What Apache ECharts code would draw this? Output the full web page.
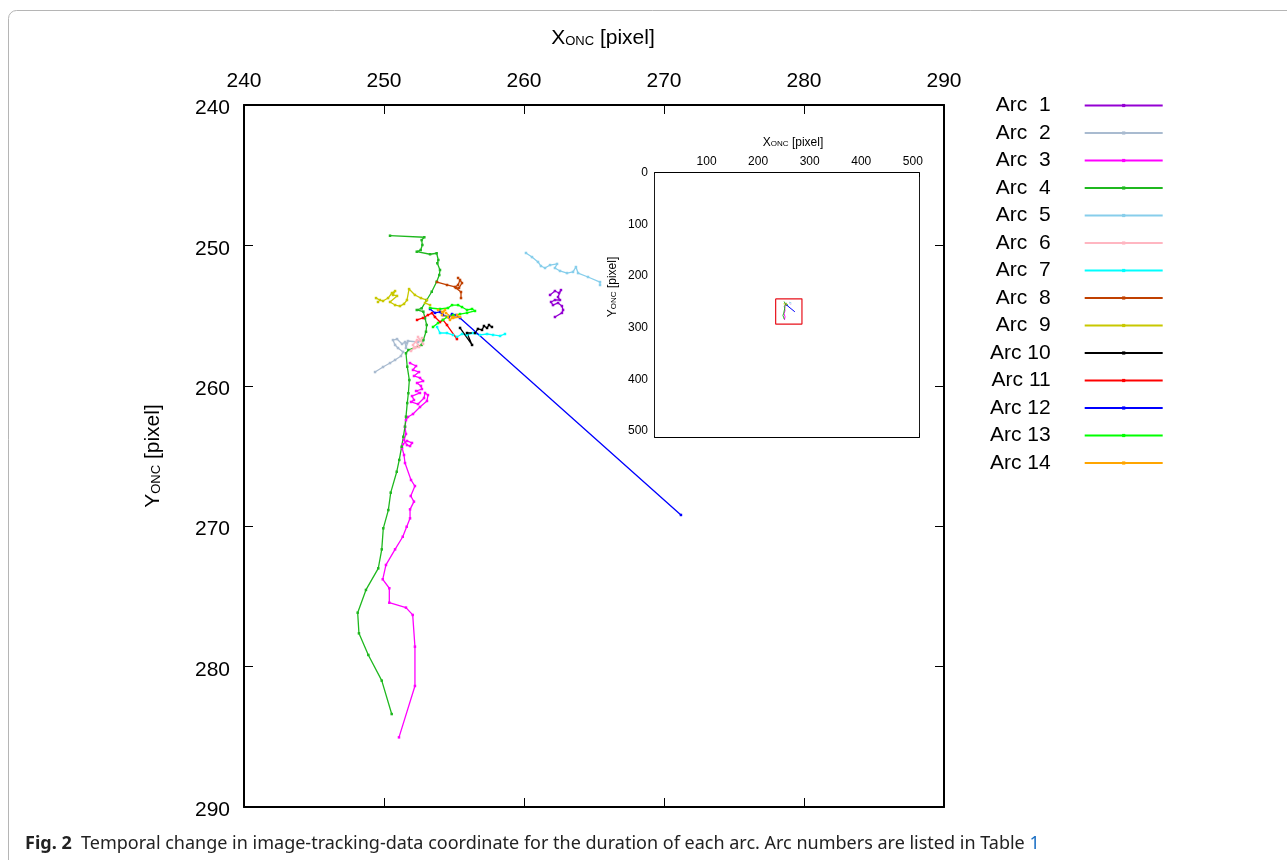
<!DOCTYPE html>
<html><head><meta charset="utf-8">
<script src="https://cdn.jsdelivr.net/npm/echarts@6/dist/echarts.min.js"></script>
<style>html,body{margin:0;padding:0;background:#fff}#c{width:1287px;height:860px}</style>
</head><body><div id="c"></div>
<script>
// ---- data (image-tracking coordinates, x = X_ONC, y = Y_ONC) ----
const arcNames = ['Arc  1','Arc  2','Arc  3','Arc  4','Arc  5','Arc  6','Arc  7','Arc  8','Arc  9','Arc 10','Arc 11','Arc 12','Arc 13','Arc 14'];
const arcColors = ['#9400d3','#a9bbd0','#ff00ff','#1fb81f','#87ceeb','#ffb6c1','#00ffff','#c04000','#c8c800','#000000','#ff0000','#0000ff','#00ff00','#ffa500'];
const arc1 = [[261.86,253.53],[262.21,253.25],[262.5,253.39],[262.64,253.18],[262.43,253.68],[262.57,253.89],[262.21,253.89],[261.93,254.03],[262.07,254.25],[262.43,254.10],[262.71,254.32],[262.79,254.60],[262.71,254.81],[262.21,255.10]];
const arc2 = [[249.36,259.02],[249.93,258.66],[250.43,258.38],[250.79,258.16],[251.21,257.88],[251.36,257.59],[251.0,257.31],[250.79,257.09],[250.64,256.74],[250.93,256.67],[251.29,257.02],[251.5,256.88],[251.64,256.95],[251.57,257.31],[251.71,256.81],[252.43,256.88],[252.79,256.74]];
const arc3 = [[251.86,258.38],[252.29,258.59],[252.07,258.87],[252.5,259.02],[252.14,259.30],[252.57,259.44],[252.79,259.66],[252.36,259.80],[252.64,260.01],[252.71,260.23],[252.29,260.37],[252.57,260.51],[252.0,260.73],[252.14,261.01],[251.93,261.15],[252.43,261.30],[252.86,260.87],[252.93,260.51],[253.14,260.66],[253.07,261.08],[252.57,261.51],[252.07,262.01],[251.71,262.22],[251.57,262.44],[251.5,262.93],[251.57,263.43],[251.43,263.86],[251.64,264.22],[251.86,264.29],[252.0,264.07],[251.64,263.93],[251.36,264.15],[251.29,264.43],[251.43,264.93],[251.5,265.50],[251.93,266.71],[252.21,267.14],[251.91,267.85],[252.14,268.25],[251.86,268.80],[251.86,269.44],[251.62,270.04],[251.34,270.75],[250.79,271.65],[250.14,272.76],[249.91,273.78],[250.38,274.42],[250.38,275.45],[251.57,275.80],[252.05,276.32],[252.21,278.58],[252.21,281.38],[251.07,285.04]];
const arc4 = [[250.43,249.31],[252.88,249.42],[252.69,249.62],[252.74,249.97],[252.62,250.33],[252.34,250.45],[253.29,250.63],[253.76,250.56],[253.88,251.04],[253.81,251.27],[254.0,251.75],[253.95,252.11],[253.76,252.59],[253.41,253.30],[253.05,253.89],[252.69,254.48],[252.34,254.60],[252.81,254.72],[252.93,255.19],[253.05,255.67],[253.0,256.15],[252.81,256.74],[252.69,257.09],[251.74,257.45],[251.57,257.68],[251.66,258.64],[251.81,259.59],[251.74,260.53],[251.66,261.23],[251.57,262.20],[251.5,262.91],[251.38,263.63],[251.26,264.34],[251.09,265.28],[250.91,266.12],[250.48,267.61],[250.31,268.85],[249.95,270.15],[249.84,271.65],[249.59,273.0],[248.71,274.54],[248.12,276.16],[248.21,277.63],[248.88,279.17],[249.84,281.0],[250.55,283.38]];
const arc5 = [[260.14,250.54],[260.57,250.83],[261.0,251.18],[261.21,251.47],[261.5,251.61],[261.86,251.40],[262.36,251.32],[262.21,251.61],[262.57,251.82],[263.07,251.97],[263.5,251.89],[263.71,251.54],[263.86,251.97],[264.57,252.25],[265.43,252.61],[265.43,252.82]];
const arc6 = [[251.93,257.52],[252.14,257.31],[252.43,257.09],[252.29,256.88],[252.57,256.74],[252.71,256.60],[252.43,256.52],[252.79,257.02],[252.5,257.24],[252.21,257.31],[252.07,257.09],[252.36,256.74],[252.64,256.81]];
const arc7 = [[253.79,255.81],[254.0,256.24],[254.5,256.24],[254.93,256.38],[255.21,256.52],[255.57,256.31],[255.93,256.38],[256.36,256.24],[256.86,256.38],[257.36,256.31],[257.79,256.38],[258.29,256.45],[258.64,256.31]];
const arc8 = [[253.79,252.61],[254.5,252.82],[255.07,252.96],[255.29,252.82],[255.43,252.46],[255.29,252.32],[255.57,252.68],[255.36,253.03],[255.14,253.03],[255.5,253.32],[255.5,253.75]];
const arc9 = [[249.43,253.75],[249.71,253.89],[249.57,254.03],[249.93,253.96],[250.29,253.75],[250.57,253.39],[250.79,253.25],[250.64,253.53],[250.93,253.60],[250.43,254.03],[250.79,254.25],[251.14,254.32],[251.43,254.17],[251.64,253.89],[251.79,253.11],[252.21,253.53],[252.64,253.75],[253.07,253.89],[252.93,254.10],[253.29,254.25]];
const arc10 = [[255.43,255.88],[256.29,257.09],[255.93,256.24],[256.5,256.24],[256.71,255.95],[257.0,256.02],[257.14,255.74],[257.36,255.88],[257.5,255.67],[257.71,255.81]];
const arc11 = [[252.36,255.31],[252.79,255.17],[253.14,254.96],[253.43,254.82],[253.64,255.10],[254.0,255.46],[254.21,255.31],[254.5,255.67],[255.21,256.67]];
const arc12 = [[253.29,254.53],[253.64,254.81],[254.0,254.74],[254.21,254.96],[254.64,255.10],[254.86,254.89],[255.14,254.96],[255.43,255.17],[271.21,269.20]];
const arc13 = [[253.29,254.46],[254.0,254.53],[254.57,254.46],[254.86,254.25],[255.29,254.25],[255.57,254.39],[255.93,254.60],[256.29,254.53],[256.5,254.67],[255.93,254.81],[255.43,254.89],[254.93,254.96],[254.5,255.10],[254.21,255.31],[253.86,255.53],[253.5,255.81]];
const arc14 = [[253.86,254.60],[254.14,254.74],[254.36,254.60],[254.14,254.96],[254.57,255.10],[254.71,255.31],[254.93,255.10],[255.21,254.96],[255.43,255.10],[254.93,255.17],[254.43,254.82]];
const arcs = [arc1,arc2,arc3,arc4,arc5,arc6,arc7,arc8,arc9,arc10,arc11,arc12,arc13,arc14];
// zoom region marked in the inset
const insetBox = [[234,244],[285,244],[285,293],[234,293],[234,244]];
const mainRange = [240, 290];
const insetRange = [0, 512];
const captionBold = 'Fig. 2';
const captionText = 'Temporal change in image-tracking-data coordinate for the duration of each arc. Arc numbers are listed in Table ';
const captionRef = '1';

const FONT = '"Liberation Sans", Arial, Helvetica, sans-serif';
const CAP = '"Noto Sans", "Open Sans", sans-serif';
const chart = echarts.init(document.getElementById('c'), null, {renderer: 'canvas'});

function axisCommon(extra) {
  return Object.assign({
    type: 'value',
    axisLine: {show: true, onZero: false, lineStyle: {color: '#000', width: 2}},
    axisTick: {show: true, inside: true, length: 9, lineStyle: {color: '#000', width: 1}},
    splitLine: {show: false},
    axisLabel: {show: false}
  }, extra);
}
const nameRich = (big, sm) => ({
  fontFamily: FONT, color: '#000',
  rich: {
    a: {fontSize: big, fontFamily: FONT, color: '#000', verticalAlign: 'bottom', lineHeight: big},
    s: {fontSize: sm, fontFamily: FONT, color: '#000', verticalAlign: 'bottom', lineHeight: big, padding: [0, 0, 1, 0]}
  }
});

const series = [];
arcs.forEach((d, i) => {
  series.push({
    type: 'line', name: arcNames[i], xAxisIndex: 0, yAxisIndex: 0, data: d,
    symbol: 'rect', symbolSize: 2.5, showSymbol: true,
    lineStyle: {color: arcColors[i], width: 1.3},
    itemStyle: {color: arcColors[i]},
    emphasis: {disabled: true}, animation: false, z: 2
  });
});
arcs.forEach((d, i) => {
  series.push({
    type: 'line', name: arcNames[i], xAxisIndex: 2, yAxisIndex: 2, data: d,
    symbol: 'none', lineStyle: {color: arcColors[i], width: 1},
    itemStyle: {color: arcColors[i]},
    emphasis: {disabled: true}, animation: false, z: 3
  });
});
series.push({
  type: 'line', name: 'box', xAxisIndex: 2, yAxisIndex: 2, data: insetBox,
  symbol: 'none', lineStyle: {color: '#e8101a', width: 1.2}, itemStyle: {color: '#e8101a'},
  emphasis: {disabled: true}, animation: false, z: 3, legendHoverLink: false
});

const option = {
  backgroundColor: '#fff',
  animation: false,
  grid: [
    {left: 244, top: 105, width: 700, height: 702, show: false},
    {left: 655, top: 173, width: 264, height: 264, show: true, backgroundColor: '#fff', borderWidth: 0, z: 1}
  ],
  xAxis: [
    axisCommon({gridIndex: 0, position: 'top', min: mainRange[0], max: mainRange[1], interval: 10,
      axisLabel: {show: true, fontSize: 21, fontFamily: FONT, color: '#000', margin: 13},
      name: '{a|X}{s|ONC}{a| [pixel]}', nameLocation: 'middle', nameGap: 56,
      nameTextStyle: Object.assign(nameRich(21, 13), {padding: [0, 0, 0, 18]})}),
    axisCommon({gridIndex: 0, position: 'bottom', min: mainRange[0], max: mainRange[1], interval: 10}),
    axisCommon({gridIndex: 1, position: 'top', min: insetRange[0], max: insetRange[1], interval: 100,
      axisLine: {show: true, onZero: false, lineStyle: {color: '#000', width: 1.8}},
      axisTick: {show: true, inside: true, length: 4, lineStyle: {color: '#000'}},
      axisLabel: {show: true, fontSize: 12, fontFamily: FONT, color: '#000', margin: 5,
        formatter: v => (v > 0 && v % 100 === 0) ? String(v) : ''},
      name: '{a|X}{s|ONC}{a| [pixel]}', nameLocation: 'middle', nameGap: 24,
      nameTextStyle: Object.assign(nameRich(12, 8), {padding: [0, 0, 0, 12]})}),
    axisCommon({gridIndex: 1, position: 'bottom', min: insetRange[0], max: insetRange[1], interval: 100,
      axisLine: {show: true, onZero: false, lineStyle: {color: '#000', width: 1.8}},
      axisTick: {show: true, inside: true, length: 4, lineStyle: {color: '#000'}}})
  ],
  yAxis: [
    axisCommon({gridIndex: 0, position: 'left', inverse: true, min: mainRange[0], max: mainRange[1], interval: 10,
      axisLabel: {show: true, fontSize: 21, fontFamily: FONT, color: '#000', margin: 14,
        verticalAlign: 'top', lineHeight: 7},
      name: '{a|Y}{s|ONC}{a| [pixel]}', nameLocation: 'middle', nameGap: 80,
      nameTextStyle: nameRich(21, 13)}),
    axisCommon({gridIndex: 0, position: 'right', inverse: true, min: mainRange[0], max: mainRange[1], interval: 10}),
    axisCommon({gridIndex: 1, position: 'left', inverse: true, min: insetRange[0], max: insetRange[1], interval: 100,
      axisLine: {show: true, onZero: false, lineStyle: {color: '#000', width: 1.8}},
      axisTick: {show: true, inside: true, length: 4, lineStyle: {color: '#000'}},
      axisLabel: {show: true, fontSize: 12, fontFamily: FONT, color: '#000', margin: 7,
        formatter: v => (v % 100 === 0) ? String(v) : ''},
      name: '{a|Y}{s|ONC}{a| [pixel]}', nameLocation: 'middle', nameGap: 36,
      nameTextStyle: Object.assign(nameRich(12, 8), {padding: [0, 0, 0, 36]})}),
    axisCommon({gridIndex: 1, position: 'right', inverse: true, min: insetRange[0], max: insetRange[1], interval: 100,
      axisLine: {show: true, onZero: false, lineStyle: {color: '#000', width: 1.8}},
      axisTick: {show: true, inside: true, length: 4, lineStyle: {color: '#000'}}})
  ],
  legend: {
    data: arcNames, orient: 'vertical', left: 985, top: 90,
    itemWidth: 78, itemHeight: 4, itemGap: 6.5, align: 'right',
    selectedMode: false,
    formatter: n => '{a|' + n + '}',
    textStyle: {color: '#000', fontSize: 21, fontFamily: FONT,
      rich: {a: {fontSize: 21, fontFamily: FONT, color: '#000', width: 70, align: 'right', padding: [0, 29, 0, 0]}}}
  },
  graphic: [
    {type: 'rect', z: 0, silent: true, shape: {x: 8.5, y: 10.5, width: 1320, height: 900, r: 8},
      style: {fill: 'none', stroke: '#b5b5b5', lineWidth: 1}},
    {type: 'text', z: 10, left: 25, top: 835, silent: true,
      style: {text: '{b|' + captionBold + '}  ' + captionText + '{c|' + captionRef + '}',
        font: '18px ' + CAP, fill: '#222',
        rich: {
          b: {font: 'bold 18px ' + CAP, fill: '#222'},
          c: {font: '18px ' + CAP, fill: '#1a6fc4'}
        }}}
  ],
  series: series
};
chart.setOption(option);
</script>
</body></html>
